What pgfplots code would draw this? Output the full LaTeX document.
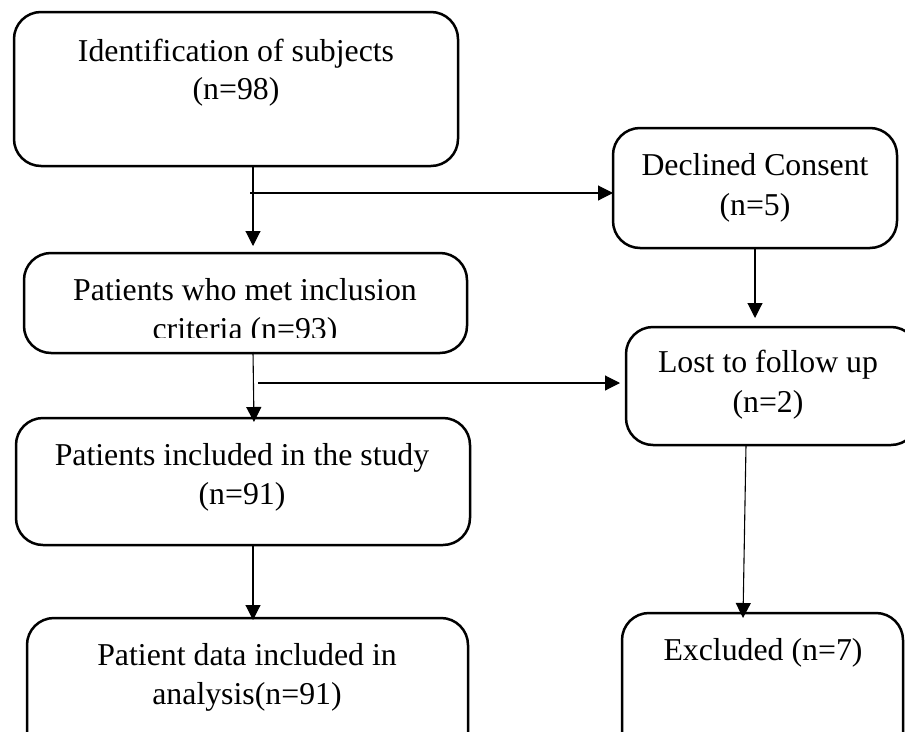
\documentclass[border=0pt]{standalone}
\usepackage{pgfplots}
\pgfplotsset{compat=1.18}
\usepackage{fontspec}
\setmainfont{Liberation Serif}
\usetikzlibrary{arrows.meta}
\newcommand\tx[1]{\fontsize{31.8}{38}\selectfont #1}
\tikzset{
  box/.style={black, line width=2.5pt, rounded corners=27pt, mark=none},
  arr/.style={black, line width=1.1pt, mark=none, -{Triangle[length=15pt,width=15pt]}},
  lab/.style={anchor=base, inner sep=0pt},
}
\begin{document}
\begin{tikzpicture}
\begin{axis}[
  hide axis, scale only axis,
  width=905pt, height=731pt,
  xmin=0, xmax=905, ymin=0, ymax=731,
  y dir=reverse, clip=true,
]
% boxes
\addplot[box] coordinates {(236,12) (458,12) (458,166) (14,166) (14,12) (236,12)};
\addplot[box] coordinates {(755,128) (897,128) (897,248) (613,248) (613,128) (755,128)};
\addplot[box] coordinates {(245,253) (467,253) (467,353) (24,353) (24,253) (245,253)};
\addplot[box] coordinates {(768,327) (918,327) (918,445) (626,445) (626,327) (768,327)};
\addplot[box] coordinates {(242,418) (470,418) (470,545) (16,545) (16,418) (242,418)};
\addplot[box] coordinates {(247,618) (468,618) (468,765) (27,765) (27,618) (247,618)};
\addplot[box] coordinates {(763,613) (903,613) (903,765) (622,765) (622,613) (763,613)};
% arrows
\addplot[arr] coordinates {(253,166) (253,246)};
\addplot[arr] coordinates {(250,193) (613,193)};
\addplot[arr] coordinates {(755,248) (755,318)};
\addplot[arr] coordinates {(253,352) (254,422)};
\addplot[arr] coordinates {(258,383) (620,383)};
\addplot[arr] coordinates {(253,545) (253,620)};
\addplot[arr] coordinates {(746,445) (743,618)};
% texts
\node[lab] at (axis cs:236,61) {\tx{Identification of subjects}};
\node[lab] at (axis cs:236,99) {\tx{(n=98)}};
\node[lab] at (axis cs:755,175) {\tx{Declined Consent}};
\node[lab] at (axis cs:755,215) {\tx{(n=5)}};
\node[lab] at (axis cs:245,300) {\tx{Patients who met inclusion}};
\begin{scope}
\clip (axis cs:0,0) rectangle (axis cs:905,337);
\node[lab] at (axis cs:245,339) {\tx{criteria (n=93)}};
\end{scope}
\node[lab] at (axis cs:768,372) {\tx{Lost to follow up}};
\node[lab] at (axis cs:768,412) {\tx{(n=2)}};
\node[lab] at (axis cs:242,465) {\tx{Patients included in the study}};
\node[lab] at (axis cs:242,504) {\tx{(n=91)}};
\node[lab] at (axis cs:247,665) {\tx{Patient data included in}};
\node[lab] at (axis cs:247,704) {\tx{analysis(n=91)}};
\node[lab] at (axis cs:763,660) {\tx{Excluded (n=7)}};
\end{axis}
\pgfresetboundingbox
\path (current axis.south west) rectangle (current axis.north east);
\end{tikzpicture}
\end{document}
